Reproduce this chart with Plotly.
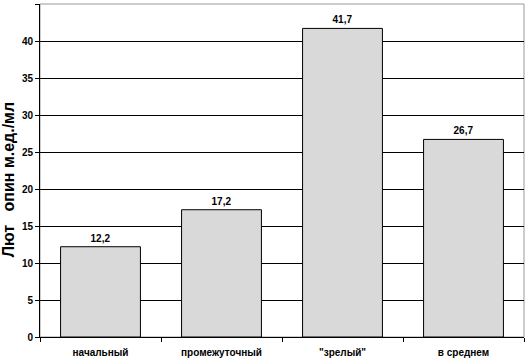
import plotly.graph_objects as go

categories = ["начальный", "промежуточный", "\"зрелый\"", "в среднем"]
values = [12.2, 17.2, 41.7, 26.7]
labels = ["12,2", "17,2", "41,7", "26,7"]
y_ticks = [0, 5, 10, 15, 20, 25, 30, 35, 40, 45]
y_title = "Лют\u00a0\u00a0\u00a0опин м.ед./мл"

fig = go.Figure()
fig.add_trace(go.Bar(
    x=categories, y=values,
    marker=dict(color="#d9d9d9", line=dict(color="black", width=1)),
    width=0.66,
    text=labels, textposition="outside",
    textfont=dict(family="Liberation Sans", size=10, color="black", weight="bold"),
    cliponaxis=False,
))
fig.update_layout(
    width=527, height=358,
    margin=dict(l=40, r=3, t=4, b=21),
    paper_bgcolor="white", plot_bgcolor="white",
    showlegend=False,
    font=dict(family="Liberation Sans", size=10, color="black"),
)
fig.update_xaxes(
    automargin=False,
    showline=True, linecolor="black", linewidth=1,
    ticks="outside", ticklen=4, tickcolor="black",
    tickson="boundaries", ticklabelstandoff=6,
    tickfont=dict(family="Liberation Sans", size=10, color="black", weight="bold"),
    showgrid=False,
)
fig.update_yaxes(
    automargin=False,
    range=[0, 45], tickvals=y_ticks, ticktext=[str(v) for v in y_ticks],
    showline=True, linecolor="black", linewidth=1,
    ticks="outside", ticklen=4, tickcolor="black",
    showgrid=True, gridcolor="black", gridwidth=1,
    tickfont=dict(family="Liberation Sans", size=10, color="black", weight="bold"),
    zeroline=False,
)
fig.add_annotation(
    text=y_title, textangle=-90, showarrow=False,
    xref="paper", yref="paper", x=0, y=0.471, xanchor="center", yanchor="middle",
    xshift=-32,
    font=dict(family="Liberation Sans", size=16, color="black", weight="bold"),
)
fig.add_shape(type="rect", xref="paper", yref="paper", x0=0, y0=0, x1=1, y1=1,
              line=dict(color="#999999", width=1), layer="below")
fig.write_html("out.html", config={"displayModeBar": False},
               post_script="document.body.style.margin='0';document.body.style.overflow='hidden';")
